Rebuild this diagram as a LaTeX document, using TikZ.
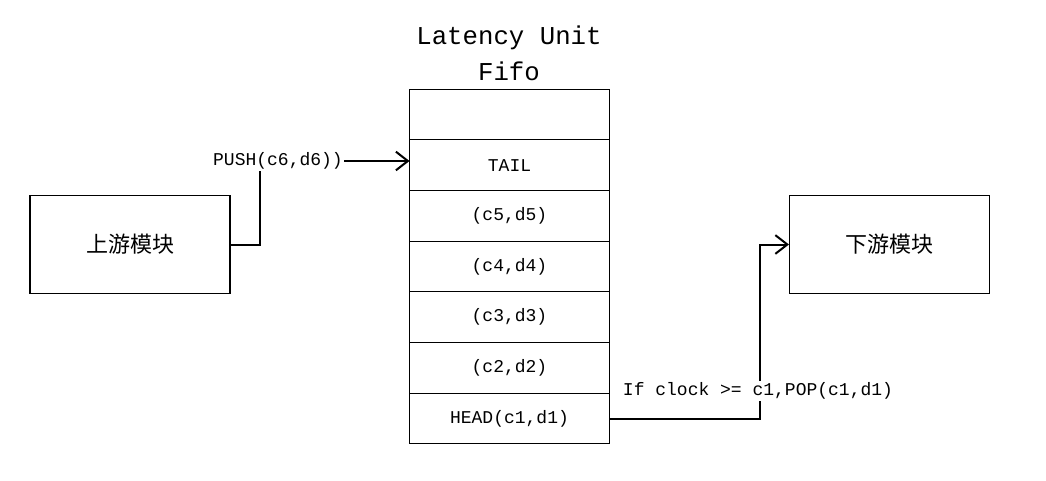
\documentclass[tikz,border=0pt]{standalone}
\usepackage{fontspec}
\setmainfont{Liberation Mono}
\newfontfamily\cjk{Noto Sans CJK SC}
\usetikzlibrary{arrows.meta,positioning}
\tikzset{
  unit/.style={draw, line width=0.8pt, minimum width=150pt, minimum height=74pt, font=\cjk\fontsize{16.5}{18}\selectfont},
  cell/.style={draw, line width=0.8pt, minimum width=150pt, minimum height=38pt, outer sep=0pt, font=\fontsize{13.5}{15}\selectfont},
  lbl/.style={inner sep=1pt, font=\fontsize{13.5}{15}\selectfont},
  ttl/.style={align=center, font=\fontsize{19.3}{27}\selectfont},
  arr/.style={-{Straight Barb[length=9pt,width=14pt]}, line width=1.5pt},
  wire/.style={line width=1.5pt}}

\begin{document}
\begin{tikzpicture}[x=0.75pt, y=-0.75pt]
  \useasboundingbox (0,0) rectangle (1046,481);
  % modules
  \node[unit] (up) at (130,244.5) {上游模块};
  \node[unit] (down) at (889.5,244.5) {下游模块};
  % fifo stack
  \node[cell] (c0) at (509.5,114.5) {};
  \node[cell, below=0pt of c0] (tail) {TAIL};
  \node[cell, below=0pt of tail] (c5) {(c5,d5)};
  \node[cell, below=0pt of c5] (c4) {(c4,d4)};
  \node[cell, below=0pt of c4] (c3) {(c3,d3)};
  \node[cell, below=0pt of c3] (c2) {(c2,d2)};
  \node[cell, below=0pt of c2] (head) {HEAD(c1,d1)};
  \node[ttl] (title) at (509,53) {Latency Unit\\Fifo};
  % push side
  \node[lbl] (push) at (278,161) {PUSH(c6,d6))};
  \coordinate (pushbend) at (260,0);
  \draw[wire] (up.east) -| (push.south -| pushbend);
  \draw[arr] (push.east) -- (push.east -| tail.west);
  % pop side
  \node[lbl] (pop) at (758,391) {If clock >= c1,POP(c1,d1)};
  \coordinate (popbend) at (760,0);
  \draw[wire] (head.east) -| (pop.south -| popbend);
  \draw[arr] (pop.north -| popbend) |- (down.west);
\end{tikzpicture}
\end{document}
